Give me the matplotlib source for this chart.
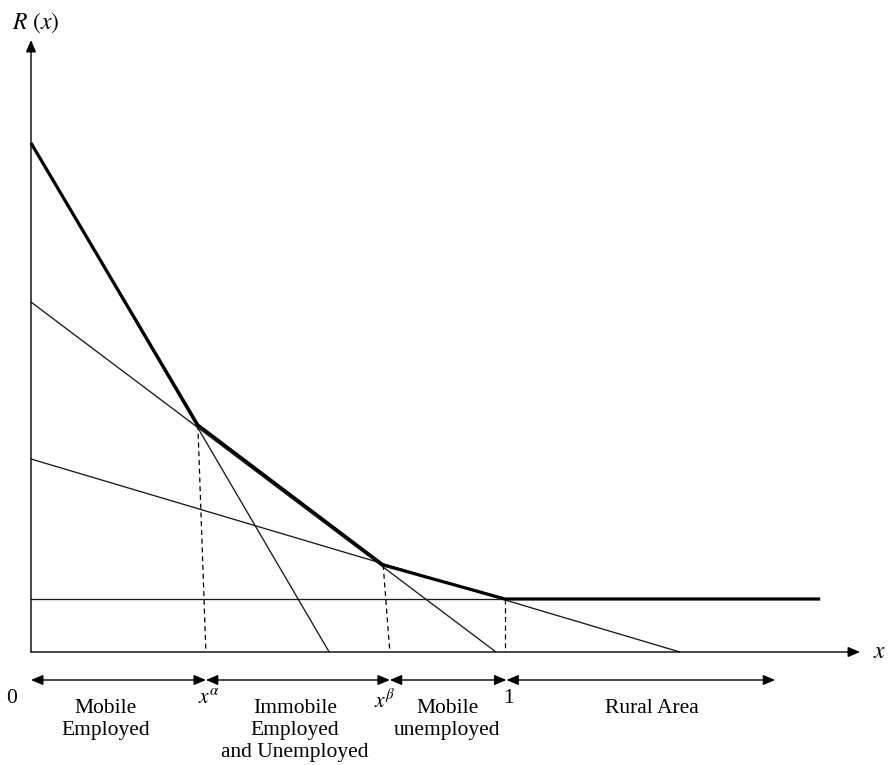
import numpy as np
import matplotlib
matplotlib.use("Agg")
import matplotlib.pyplot as plt

plt.rcParams["font.family"] = ["Liberation Serif", "DejaVu Serif"]
plt.rcParams["mathtext.fontset"] = "stix"

# Bid-rent lines: value at x = 0 and where they hit zero
bid_intercepts = [5.09, 3.50, 1.93]
bid_zeros = [0.629, 0.981, 1.369]
rural_rent = 0.53

# Upper envelope (thick line)
env_x = [0.0, 0.352, 0.743, 1.0, 1.665]
env_r = [5.09, 2.27, 0.87, 0.53, 0.53]

# Dashed drop lines: (top x, top R, bottom x)
drops = [(0.352, 2.27, 0.369), (0.743, 0.87, 0.757), (1.0, 0.53, 1.0)]

# Zones under the axis
zone_edges = [0.0, 0.369, 0.757, 1.003, 1.570]
zone_names = ["Mobile\nEmployed", "Immobile\nEmployed\nand Unemployed",
              "Mobile\nunemployed", "Rural Area"]
zone_label_x = [0.157, 0.557, 0.878, 1.310]
tick_names = ["0", r"$x^{\alpha}$", r"$x^{\beta}$", "1"]
tick_x = [-0.040, 0.376, 0.745, 1.008]

x_axis_end = 1.749
y_axis_end = 6.12

fig = plt.figure(figsize=(8.89, 7.65), dpi=100)
ax = fig.add_axes([0, 0, 1, 1])
ax.set_xlim(-31 / 474, 858 / 474)
ax.set_ylim(-1.13, 6.52)
ax.axis("off")

# axes with arrows
head = "-|>,head_length=0.4,head_width=0.17"
ax.annotate("", xy=(0, y_axis_end), xytext=(0, 0),
            arrowprops=dict(arrowstyle=head, color="black", lw=1.0,
                            mutation_scale=18, shrinkA=0, shrinkB=0))
ax.annotate("", xy=(x_axis_end, 0), xytext=(0, 0),
            arrowprops=dict(arrowstyle=head, color="black", lw=1.0,
                            mutation_scale=18, shrinkA=0, shrinkB=0))

# thin bid-rent lines
for a, b in zip(bid_intercepts, bid_zeros):
    ax.plot([0, b], [a, 0], color="#1a1a1a", lw=0.95, solid_capstyle="butt")
ax.plot([0, 1.0], [rural_rent, rural_rent], color="#1a1a1a", lw=0.95)

# thick envelope
ax.plot(env_x, env_r, color="black", lw=2.3, solid_joinstyle="miter",
        solid_capstyle="butt")

# dashed verticals
for xt, rt, xb in drops:
    ax.plot([xt, xb], [rt, 0], color="black", lw=0.9, ls=(0, (4, 3)))

# zone arrows
row_y = -0.28
dbl = "<|-|>,head_length=0.4,head_width=0.17"
for x0, x1 in zip(zone_edges[:-1], zone_edges[1:]):
    ax.annotate("", xy=(x1, row_y), xytext=(x0, row_y),
                arrowprops=dict(arrowstyle=dbl, color="black", lw=1.0,
                                mutation_scale=18, shrinkA=0, shrinkB=0))

for name, xt in zip(tick_names, tick_x):
    ax.text(xt, row_y - 0.09, name, ha="center", va="top", fontsize=15.5)

for name, xl in zip(zone_names, zone_label_x):
    ax.text(xl, -0.47, name, ha="center", va="top", fontsize=15.5,
            linespacing=1.22)

ax.text(-0.040, 6.29, r"$R\ (x)$", ha="left", va="center", fontsize=17)
ax.text(1.776, 0, r"$x$", ha="left", va="center", fontsize=17)

fig.savefig("out.png", dpi=100)
